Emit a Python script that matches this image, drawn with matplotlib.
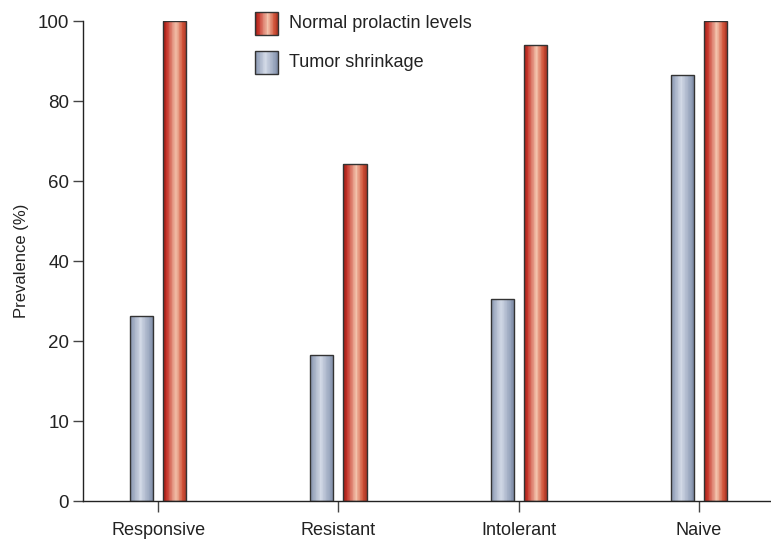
import numpy as np
import matplotlib
matplotlib.use("Agg")
import matplotlib.pyplot as plt
from matplotlib.colors import LinearSegmentedColormap
from matplotlib.patches import Rectangle

plt.rcParams['font.family'] = ['Liberation Sans', 'DejaVu Sans']

# data
categories = ['Responsive', 'Resistant', 'Intolerant', 'Naive']
tumor_shrinkage = [26.3, 18.2, 30.4, 86.5]
normal_prolactin = [100, 64.2, 93.9, 100]
ytick_values = [0, 10, 20, 40, 60, 80, 100]

# broken y scale: ticks equally spaced but not linear in value
tick_pos = np.arange(len(ytick_values))
def fwd(v):
    return np.interp(v, ytick_values, tick_pos)
def inv(p):
    return np.interp(p, tick_pos, ytick_values)

red_cmap = LinearSegmentedColormap.from_list(
    'redbar', [(0, '#9e1a12'), (0.15, '#c4342a'), (0.55, '#f3c2ab'),
               (0.85, '#cf5238'), (1, '#a83222')])
blue_cmap = LinearSegmentedColormap.from_list(
    'bluebar', [(0, '#8593ae'), (0.45, '#d2d9e6'), (0.85, '#97a4bc'),
                (1, '#7d8aa4')])

fig = plt.figure(figsize=(7.71, 5.39), dpi=100)
ax = fig.add_axes([83/771, 38/539, 1 - 83/771, (501 - 21)/539])
ax.set_yscale('function', functions=(fwd, inv))

x = np.arange(len(categories))
w = 0.128
off = 0.092
nstrip = 30


def gradient_bar(xc, h, cmap):
    left = xc - w/2
    sw = w / nstrip
    for i in range(nstrip):
        ax.bar(left + i*sw, h, width=sw*1.05, align='edge',
               color=cmap((i + 0.5)/nstrip), linewidth=0, zorder=2)
    ax.bar(xc, h, width=w, fill=False, edgecolor='#333333',
           linewidth=1.0, zorder=3)


for xi, t, n in zip(x, tumor_shrinkage, normal_prolactin):
    gradient_bar(xi - off, t, blue_cmap)
    gradient_bar(xi + off, n, red_cmap)

ax.set_xlim(-0.417, 3.4)
ax.set_ylim(0, 100)
ax.set_yticks(ytick_values)
ax.set_yticklabels([str(v) for v in ytick_values])
ax.set_xticks(x)
ax.set_xticklabels(categories)

for s in ['top', 'right']:
    ax.spines[s].set_visible(False)
for s in ['left', 'bottom']:
    ax.spines[s].set_color('#222222')
    ax.spines[s].set_linewidth(1.0)
ax.tick_params(axis='y', length=7, width=1, color='#444444',
               labelsize=13.5, pad=3, labelcolor='#222222')
ax.tick_params(axis='x', length=8, width=1, color='#444444',
               labelsize=13, pad=7, labelcolor='#222222')
ax.set_ylabel('Prevalence (%)', fontsize=12, color='#222222', labelpad=6)


# legend drawn in figure pixels with gradient squares
def legend_box(y_top, cmap, label):
    lx, sq_w, sq_h = 255, 23, 23
    for i in range(nstrip):
        fig.patches.append(Rectangle(
            ((lx + i*sq_w/nstrip)/771, 1 - (y_top + sq_h)/539),
            sq_w/nstrip/771*1.05, sq_h/539, transform=fig.transFigure,
            color=cmap((i + 0.5)/nstrip), linewidth=0))
    fig.patches.append(Rectangle(
        (lx/771, 1 - (y_top + sq_h)/539), sq_w/771, sq_h/539,
        transform=fig.transFigure, fill=False, edgecolor='#333333',
        linewidth=1.0))
    fig.text(289/771, 1 - (y_top + sq_h/2)/539, label, fontsize=13,
             color='#222222', va='center', ha='left')


legend_box(12, red_cmap, 'Normal prolactin levels')
legend_box(51, blue_cmap, 'Tumor shrinkage')

fig.savefig('out.png', dpi=100)
